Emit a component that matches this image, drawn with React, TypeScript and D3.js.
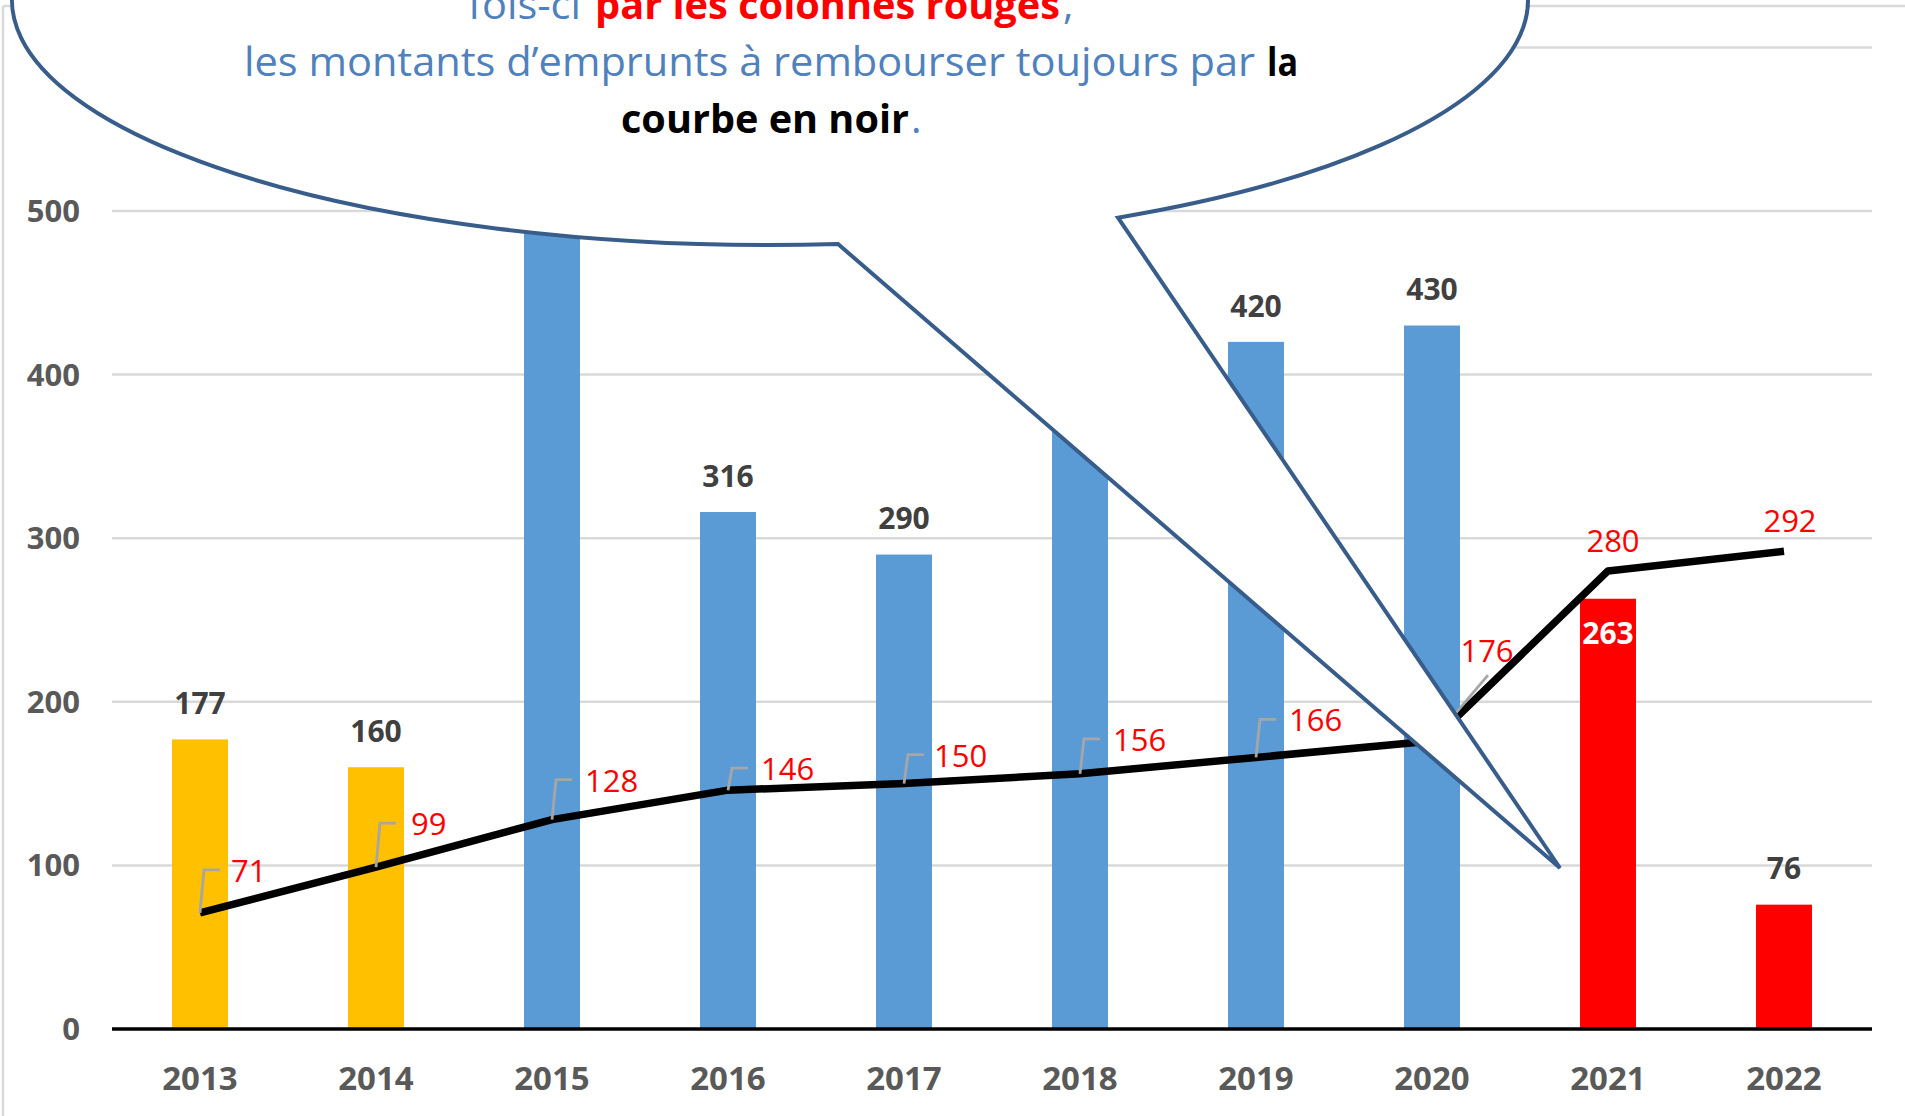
import React from 'react';
import * as d3 from 'd3';

// ---------- data ----------
const years = ['2013', '2014', '2015', '2016', '2017', '2018', '2019', '2020', '2021', '2022'];
const barValues = [177, 160, 520, 316, 290, 380, 420, 430, 263, 76];
const barGroups = ['avant', 'avant', 'mandat', 'mandat', 'mandat', 'mandat', 'mandat', 'mandat', 'nouveau', 'nouveau'];
const lineValues = [71, 99, 128, 146, 150, 156, 166, 176, 280, 292];
const yTicks = [0, 100, 200, 300, 400, 500, 600];

// ---------- layout / style ----------
const W = 1905;
const H = 1116;
const FONT = "'Open Sans', 'Noto Sans', sans-serif";
const groupColor: Record<string, string> = { avant: '#FFC000', mandat: '#5B9BD5', nouveau: '#FF0000' };
const barLabelInside = [false, false, false, false, false, false, false, false, true, false];
// manual label placement for the line series (pixels relative to point)
const lineLabelLayout = [
  { mode: 'elbow', dx: 31, dy: -42 },
  { mode: 'elbow', dx: 35, dy: -43 },
  { mode: 'elbow', dx: 33, dy: -39 },
  { mode: 'elbow', dx: 33, dy: -21 },
  { mode: 'elbow', dx: 30, dy: -28 },
  { mode: 'elbow', dx: 33, dy: -34 },
  { mode: 'elbow', dx: 33, dy: -37 },
  { mode: 'diag', dx: 55, dy: -90 },
  { mode: 'above', dx: 5, dy: -30 },
  { mode: 'above', dx: 6, dy: -30 },
];

const BLUE_TXT = '#4F81BD';
const bubbleText = [
  {
    y: 19,
    segs: [
      { t: 'fois-ci', c: BLUE_TXT, b: false, x0: 468, x1: 581 },
      { t: 'par les colonnes rouges', c: '#FF0000', b: true, x0: 595, x1: 1060 },
      { t: ',', c: BLUE_TXT, b: false, x0: 1063, x1: 0 },
    ],
  },
  {
    y: 76,
    segs: [
      { t: 'les montants d’emprunts à rembourser toujours par', c: BLUE_TXT, b: false, x0: 244, x1: 1255 },
      { t: 'la', c: '#000000', b: true, x0: 1267, x1: 1298 },
    ],
  },
  {
    y: 133,
    segs: [
      { t: 'courbe en noir', c: '#000000', b: true, x0: 621, x1: 909 },
      { t: '.', c: BLUE_TXT, b: false, x0: 911, x1: 0 },
    ],
  },
];

// bubble geometry
const ELL = { cx: 770, cy: 0, rx: 758, ry: 245 };
const WEDGE = { ax: 838, bx: 1118, tx: 1560, ty: 868 };

function ellY(xv: number) {
  const k = (xv - ELL.cx) / ELL.rx;
  return ELL.cy + ELL.ry * Math.sqrt(Math.max(0, 1 - k * k));
}

export default function App() {
  const x = d3
    .scaleBand<string>()
    .domain(years)
    .range([112, 1872])
    .paddingInner(0.682)
    .paddingOuter(0.341);
  const y = d3.scaleLinear().domain([0, 600]).range([1029, 47.4]);
  const cx = (i: number) => (x(years[i]) as number) + x.bandwidth() / 2;

  const linePath = d3
    .line<number>()
    .x((_, i) => cx(i))
    .y((d) => y(d))(lineValues) as string;

  const ay = ellY(WEDGE.ax);
  const by = ellY(WEDGE.bx);
  const bubblePath =
    `M${WEDGE.ax},${ay} L${WEDGE.tx},${WEDGE.ty} L${WEDGE.bx},${by} ` +
    `A${ELL.rx},${ELL.ry} 0 1 0 ${WEDGE.ax},${ay} Z`;

  const digitBase = (center: number, fs: number) => center + 0.357 * fs;

  return (
    <svg
      width={W}
      height={H}
      viewBox={`0 0 ${W} ${H}`}
      style={{ position: 'absolute', left: 0, top: 0, display: 'block', background: '#fff' }}
      fontFamily={FONT}
    >
      <rect x={0} y={0} width={W} height={H} fill="#ffffff" />
      {/* chart area border */}
      <line x1={3} y1={6} x2={W} y2={6} stroke="#D9D9D9" strokeWidth={2.5} />
      <line x1={3} y1={6} x2={3} y2={H} stroke="#D9D9D9" strokeWidth={2.5} />

      {/* gridlines */}
      {yTicks.map((t) => (
        <line key={'g' + t} x1={112} x2={1872} y1={y(t)} y2={y(t)} stroke="#D9D9D9" strokeWidth={2.5} />
      ))}

      {/* bars */}
      {barValues.map((v, i) => (
        <rect
          key={'b' + i}
          x={x(years[i])}
          y={y(v)}
          width={x.bandwidth()}
          height={y(0) - y(v)}
          fill={groupColor[barGroups[i]]}
        />
      ))}

      {/* x axis line */}
      <line x1={112} x2={1872} y1={y(0)} y2={y(0)} stroke="#000" strokeWidth={3.5} />

      {/* bar labels */}
      {barValues.map((v, i) => {
        const inside = barLabelInside[i];
        const c = inside ? y(v) + 35 : y(v) - 36;
        return (
          <text
            key={'bl' + i}
            x={cx(i)}
            y={digitBase(c, 30)}
            textAnchor="middle"
            fontSize={30}
            fontWeight={700}
            fill={inside ? '#FFFFFF' : '#404040'}
          >
            {v}
          </text>
        );
      })}

      {/* line series */}
      <path d={linePath} fill="none" stroke="#000" strokeWidth={7.5} strokeLinejoin="round" />

      {/* line leaders & labels */}
      {lineValues.map((v, i) => {
        const px = cx(i);
        const py = y(v);
        const L = lineLabelLayout[i];
        const ly = py + L.dy;
        let leader: string | null = null;
        let anchor: 'start' | 'middle' = 'middle';
        if (L.mode === 'elbow') {
          leader = `M${px},${py} L${px + 4},${ly - 1} L${px + 20},${ly - 1}`;
          anchor = 'start';
        } else if (L.mode === 'diag') {
          leader = `M${px},${py} L${px + 56},${py - 66}`;
        }
        return (
          <g key={'ll' + i}>
            {leader && <path d={leader} fill="none" stroke="#A6A6A6" strokeWidth={2.8} />}
            <text
              x={px + L.dx}
              y={digitBase(ly, 31)}
              textAnchor={anchor}
              fontSize={31}
              fill="#FF0000"
            >
              {v}
            </text>
          </g>
        );
      })}

      {/* y axis labels */}
      {yTicks.map((t) => (
        <text
          key={'yl' + t}
          x={80}
          y={digitBase(y(t), 31)}
          textAnchor="end"
          fontSize={31}
          fontWeight={700}
          fill="#595959"
        >
          {t}
        </text>
      ))}

      {/* x axis labels */}
      {years.map((yr, i) => (
        <text
          key={'xl' + yr}
          x={cx(i)}
          y={digitBase(1078, 33)}
          textAnchor="middle"
          fontSize={33}
          fontWeight={700}
          fill="#595959"
        >
          {yr}
        </text>
      ))}

      {/* speech bubble */}
      <path d={bubblePath} fill="#FFFFFF" stroke="#385D8A" strokeWidth={4} strokeLinejoin="miter" />
      {bubbleText.map((ln, li) =>
        ln.segs.map((s, si) => (
          <text
            key={'bt' + li + '-' + si}
            x={s.x0}
            y={ln.y}
            fontSize={40}
            fontWeight={s.b ? 700 : 400}
            fill={s.c}
            {...(s.x1 > 0 ? { textLength: s.x1 - s.x0, lengthAdjust: 'spacingAndGlyphs' } : {})}
          >
            {s.t}
          </text>
        ))
      )}
    </svg>
  );
}
